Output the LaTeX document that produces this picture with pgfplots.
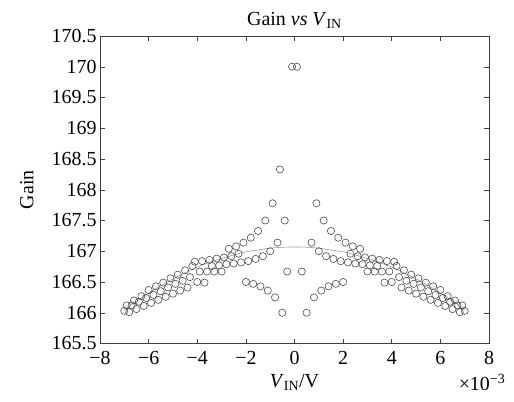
\documentclass[border=0pt]{standalone}
\usepackage{fontspec}
\setmainfont{Liberation Serif}
\usepackage{pgfplots}
\pgfplotsset{compat=1.18}
\pgfplotstableread{
x y
-0.1 170.00
-0.3 166.67
-0.4 167.50
-0.5 166.00
-0.6 168.33
-0.7 167.14
-0.8 166.25
-0.9 167.78
-1.0 167.00
-1.1 166.36
-1.2 167.50
-1.3 166.92
-1.4 166.43
-1.5 167.33
-1.6 166.875
-1.7 166.47
-1.8 167.22
-1.9 166.84
-2.0 166.50
-2.1 167.14
-2.2 166.82
-2.3 166.96
-2.4 167.08
-2.5 166.80
-2.6 166.92
-2.7 167.04
-2.8 166.79
-2.9 166.90
-3.0 166.67
-3.1 166.77
-3.2 166.88
-3.3 166.67
-3.4 166.76
-3.5 166.86
-3.6 166.67
-3.7 166.49
-3.8 166.84
-3.9 166.67
-4.0 166.50
-4.1 166.83
-4.2 166.76
-4.3 166.58
-4.4 166.41
-4.5 166.69
-4.6 166.52
-4.7 166.36
-4.8 166.62
-4.9 166.47
-5.0 166.31
-5.1 166.56
-5.2 166.41
-5.3 166.26
-5.4 166.49
-5.5 166.35
-5.6 166.21
-5.7 166.43
-5.8 166.29
-5.9 166.16
-6.0 166.37
-6.1 166.24
-6.2 166.11
-6.3 166.27
-6.4 166.18
-6.5 166.06
-6.6 166.20
-6.7 166.12
-6.8 166.01
-6.9 166.12
-7.0 166.03
}\leftdata
\pgfplotstableread{
x y
0.1 170.00
0.3 166.67
0.5 166.00
0.7 167.14
0.8 166.25
0.9 167.78
1.0 167.00
1.1 166.36
1.2 167.50
1.3 166.92
1.4 166.43
1.5 167.33
1.6 166.875
1.7 166.47
1.8 167.22
1.9 166.84
2.0 166.50
2.1 167.14
2.2 166.82
2.3 166.96
2.4 167.08
2.5 166.80
2.6 166.92
2.7 167.04
2.8 166.79
2.9 166.90
3.0 166.67
3.1 166.77
3.2 166.88
3.3 166.67
3.4 166.76
3.5 166.86
3.6 166.67
3.7 166.49
3.8 166.84
3.9 166.67
4.0 166.50
4.1 166.83
4.2 166.76
4.3 166.58
4.4 166.41
4.5 166.69
4.6 166.52
4.7 166.36
4.8 166.62
4.9 166.47
5.0 166.31
5.1 166.56
5.2 166.41
5.3 166.26
5.4 166.49
5.5 166.35
5.6 166.21
5.7 166.43
5.8 166.29
5.9 166.16
6.0 166.37
6.1 166.24
6.2 166.11
6.3 166.27
6.4 166.18
6.5 166.06
6.6 166.20
6.7 166.12
6.8 166.01
6.9 166.12
7.0 166.03
}\rightdata
\pgfplotstableread{
x y
-7.0 166.05
-6.5 166.19
-6.0 166.32
-5.5 166.44
-5.0 166.55
-4.5 166.65
-4.0 166.74
-3.5 166.82
-3.0 166.88
-2.5 166.94
-2.0 166.99
-1.5 167.02
-1.0 167.05
-0.5 167.065
0.0 167.07
0.5 167.065
1.0 167.05
1.5 167.02
2.0 166.99
2.5 166.94
3.0 166.88
3.5 166.82
4.0 166.74
4.5 166.65
5.0 166.55
5.5 166.44
6.0 166.32
6.5 166.19
7.0 166.05
}\fitdata
\begin{document}
\begin{tikzpicture}
\path[use as bounding box] (-100bp,-58.5bp) rectangle (414bp,343.5bp);
\begin{axis}[
  name=ax,
  at={(0,0)}, anchor=south west,
  scale only axis, width=389bp, height=307.5bp,
  xmin=-8, xmax=8, ymin=165.5, ymax=170.5,
  xtick={-8,-6,-4,-2,0,2,4,6,8},
  xticklabels={−8,−6,−4,−2,0,2,4,6,8},
  ytick={165.5,166,166.5,167,167.5,168,168.5,169,169.5,170,170.5},
  yticklabels={165.5,166,166.5,167,167.5,168,168.5,169,169.5,170,170.5},
  /pgf/number format/assume math mode=true,
  tick align=inside,
  major tick length=5bp,
  tick style={black!75, line width=0.5bp},
  axis line style={black!75, line width=0.6bp},
  ticklabel style={font=\fontsize{20}{24}\selectfont},
  xticklabel style={yshift=-4bp},
  label style={font=\fontsize{20}{24}\selectfont},
  title style={font=\fontsize{20}{24}\selectfont, yshift=-2bp},
  title={Gain \textit{vs} \textit{V}\textsubscript{IN}},
  xlabel={\textit{V}\textsubscript{IN}/V},
  ylabel={Gain},
  xlabel style={at={(rel axis cs:0.5,0)}, anchor=center, yshift=-39bp},
  ylabel style={at={(axis description cs:-0.188,0.5)}, anchor=center},
]
\addplot[black!40, line width=0.6bp, smooth] table[x=x,y=y] {\fitdata};
\addplot[only marks, mark=o, mark size=3.6bp, black!70, mark options={line width=0.6bp}] table[x=x,y=y] {\leftdata};
\addplot[only marks, mark=o, mark size=3.6bp, black!70, mark options={line width=0.6bp}] table[x=x,y=y] {\rightdata};
\end{axis}
\node[font=\fontsize{20}{24}\selectfont, anchor=center] at ([xshift=-7bp,yshift=-39bp]ax.south east) {×10\textsuperscript{−3}};
\end{tikzpicture}
\end{document}
